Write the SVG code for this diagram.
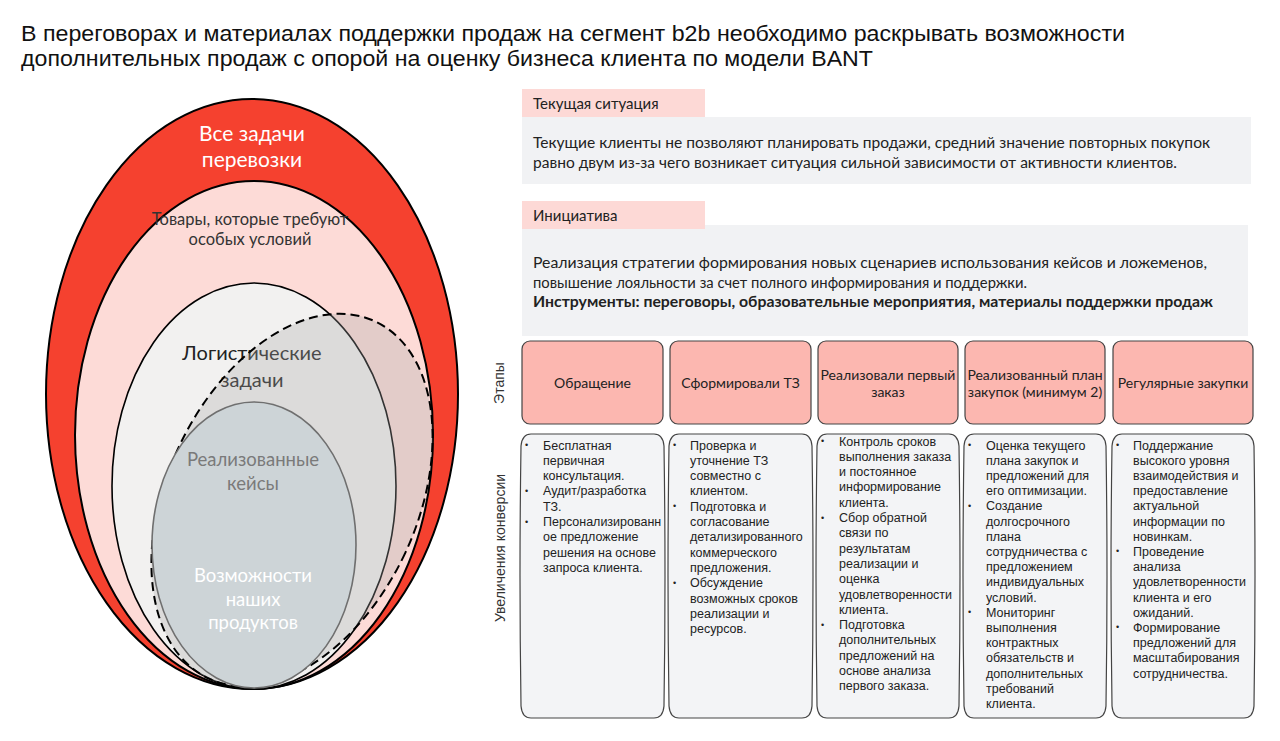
<svg xmlns="http://www.w3.org/2000/svg" width="1280" height="741" viewBox="0 0 1280 741">
<style>
.title{font-family:"Liberation Sans",Arial,sans-serif;font-size:22.5px;fill:#111}
.cal{font-family:Lato,"Open Sans",sans-serif}
.lbl{font-size:15px;fill:#222}
.body{font-size:15.5px;fill:#222}
.stage{fill:#fcb7b0;stroke:#444;stroke-width:1.2}
.stxt{font-family:Lato,"Open Sans",sans-serif;font-size:14px;fill:#222;text-anchor:middle}
.col{fill:#f3f4f6;stroke:#444;stroke-width:1.2}
.bt{font-family:"Liberation Sans",Arial,sans-serif;font-size:12.5px;fill:#222}
.bul{font-family:"Liberation Sans",Arial,sans-serif;font-size:9px;fill:#222}
.side{font-family:"Liberation Sans",Arial,sans-serif;font-size:14px;fill:#333;text-anchor:middle}
.et{font-family:Lato,"Open Sans",sans-serif;text-anchor:middle}
</style>
<rect width="1280" height="741" fill="#ffffff"/>

<g id="title">
<text class="title" x="21" y="41" textLength="1104" lengthAdjust="spacingAndGlyphs">В переговорах и материалах поддержки продаж на сегмент b2b необходимо раскрывать возможности</text>
<text class="title" x="21" y="66" textLength="852" lengthAdjust="spacingAndGlyphs">дополнительных продаж с опорой на оценку бизнеса клиента по модели BANT</text>
</g>

<g id="ellipses">
<g id="e-all">
<ellipse cx="252" cy="394" rx="206" ry="295" fill="#f5412f" stroke="#000" stroke-width="2"/>
<text class="et" x="252" y="141" font-size="21" fill="#fff">Все задачи</text>
<text class="et" x="252" y="167" font-size="21" fill="#fff">перевозки</text>
</g>
<g id="e-special">
<ellipse cx="254" cy="435" rx="179" ry="254" fill="#fddbd7" stroke="#000" stroke-width="2"/>
<text class="et" x="250" y="225" font-size="16.5" fill="#333">Товары, которые требуют</text>
<text class="et" x="250" y="245" font-size="16.5" fill="#333">особых условий</text>
</g>
<g id="e-logistic">
<ellipse cx="254" cy="486" rx="142" ry="203" fill="#f2f1f0" stroke="#000" stroke-width="1.6"/>
<text class="et" x="252" y="360" font-size="20" fill="#222">Логистические</text>
<text class="et" x="252" y="387" font-size="20" fill="#222">задачи</text>
</g>
<g id="e-dashed">
<ellipse cx="292" cy="500" rx="125" ry="197" transform="rotate(25 292 500)" fill="#a8a8a8" fill-opacity="0.3" stroke="#000" stroke-width="2" stroke-dasharray="9 5"/>
</g>
<g id="e-products">
<ellipse cx="254" cy="545" rx="102" ry="143" fill="#cdd4d7" stroke="#6f6f6f" stroke-width="1.6"/>
<text class="et" x="253" y="466" font-size="18.5" fill="#7a7a7a">Реализованные</text>
<text class="et" x="253" y="490" font-size="18.5" fill="#7a7a7a">кейсы</text>
<text class="et" x="253" y="582" font-size="18.5" fill="#fff">Возможности</text>
<text class="et" x="253" y="606" font-size="18.5" fill="#fff">наших</text>
<text class="et" x="253" y="629" font-size="18.5" fill="#fff">продуктов</text>
</g>
</g>

<g id="current">
<rect x="522" y="117" width="729" height="67" fill="#f1f2f4"/>
<rect x="522" y="89" width="183" height="28" fill="#fdd9d6"/>
<text class="cal lbl" x="533" y="109">Текущая ситуация</text>
<text class="cal body" x="533" y="148" textLength="677" lengthAdjust="spacingAndGlyphs">Текущие клиенты не позволяют планировать продажи, средний значение повторных покупок</text>
<text class="cal body" x="533" y="168" textLength="644" lengthAdjust="spacingAndGlyphs">равно двум из-за чего возникает ситуация сильной зависимости от активности клиентов.</text>
</g>

<g id="initiative">
<rect x="522" y="225" width="726" height="111" fill="#f1f2f4"/>
<rect x="522" y="201" width="183" height="28" fill="#fdd9d6"/>
<text class="cal lbl" x="533" y="221">Инициатива</text>
<text class="cal body" x="533" y="268" textLength="674" lengthAdjust="spacingAndGlyphs">Реализация стратегии формирования новых сценариев использования кейсов и ложеменов,</text>
<text class="cal body" x="533" y="288" textLength="494" lengthAdjust="spacingAndGlyphs">повышение лояльности за счет полного информирования и поддержки.</text>
<text class="cal body" x="533" y="307" font-weight="bold" textLength="680" lengthAdjust="spacingAndGlyphs">Инструменты: переговоры, образовательные мероприятия, материалы поддержки продаж</text>
</g>

<g id="side-labels">
<text class="side" transform="translate(504 383) rotate(-90)">Этапы</text>
<text class="side" font-size="15" transform="translate(505 548) rotate(-90)">Увеличения конверсии</text>
</g>

<g id="stage1">
<rect class="stage" x="522" y="341" width="141" height="83" rx="8"/>
<text class="stxt" x="592.5" y="388">Обращение</text>
</g>
<g id="stage2">
<rect class="stage" x="670" y="341" width="141" height="83" rx="8"/>
<text class="stxt" x="740.5" y="388">Сформировали ТЗ</text>
</g>
<g id="stage3">
<rect class="stage" x="818" y="341" width="140" height="83" rx="8"/>
<text class="stxt" x="888" y="380">Реализовали первый</text>
<text class="stxt" x="888" y="397">заказ</text>
</g>
<g id="stage4">
<rect class="stage" x="965" y="341" width="140" height="83" rx="8"/>
<text class="stxt" x="1035" y="380" font-size="13.5">Реализованный план</text>
<text class="stxt" x="1035" y="397" font-size="13.5">закупок (минимум 2)</text>
</g>
<g id="stage5">
<rect class="stage" x="1113" y="341" width="140" height="83" rx="8"/>
<text class="stxt" x="1183" y="388">Регулярные закупки</text>
</g>

<g id="col1">
<path class="col" d="M531 434 H654 Q663 434 664 446 Q666 576 664 706 Q663 718 654 718 H531 Q522 718 521 706 Q519 576 521 446 Q522 434 531 434 Z"/>
<text class="bt" x="543" y="449.5"><tspan x="543">Бесплатная</tspan><tspan x="543" dy="15.3">первичная</tspan><tspan x="543" dy="15.3">консультация.</tspan><tspan x="543" dy="15.3">Аудит/разработка</tspan><tspan x="543" dy="15.3">ТЗ.</tspan><tspan x="543" dy="15.3">Персонализированн</tspan><tspan x="543" dy="15.3">ое предложение</tspan><tspan x="543" dy="15.3">решения на основе</tspan><tspan x="543" dy="15.3">запроса клиента.</tspan></text>
<text class="bul" x="525" y="448"><tspan x="525">•</tspan><tspan x="525" dy="45.9">•</tspan><tspan x="525" dy="30.6">•</tspan></text>
</g>

<g id="col2">
<path class="col" d="M679 434 H802 Q811 434 812 446 Q814 576 812 706 Q811 718 802 718 H679 Q670 718 669 706 Q667 576 669 446 Q670 434 679 434 Z"/>
<text class="bt" x="690" y="449.5"><tspan x="690">Проверка и</tspan><tspan x="690" dy="15.3">уточнение ТЗ</tspan><tspan x="690" dy="15.3">совместно с</tspan><tspan x="690" dy="15.3">клиентом.</tspan><tspan x="690" dy="15.3">Подготовка и</tspan><tspan x="690" dy="15.3">согласование</tspan><tspan x="690" dy="15.3">детализированного</tspan><tspan x="690" dy="15.3">коммерческого</tspan><tspan x="690" dy="15.3">предложения.</tspan><tspan x="690" dy="15.3">Обсуждение</tspan><tspan x="690" dy="15.3">возможных сроков</tspan><tspan x="690" dy="15.3">реализации и</tspan><tspan x="690" dy="15.3">ресурсов.</tspan></text>
<text class="bul" x="673" y="448"><tspan x="673">•</tspan><tspan x="673" dy="61.2">•</tspan><tspan x="673" dy="76.5">•</tspan></text>
</g>

<g id="col3">
<path class="col" d="M827 434 H949 Q958 434 959 446 Q961 576 959 706 Q958 718 949 718 H827 Q818 718 817 706 Q815 576 817 446 Q818 434 827 434 Z"/>
<text class="bt" x="839" y="445.5"><tspan x="839">Контроль сроков</tspan><tspan x="839" dy="15.3">выполнения заказа</tspan><tspan x="839" dy="15.3">и постоянное</tspan><tspan x="839" dy="15.3">информирование</tspan><tspan x="839" dy="15.3">клиента.</tspan><tspan x="839" dy="15.3">Сбор обратной</tspan><tspan x="839" dy="15.3">связи по</tspan><tspan x="839" dy="15.3">результатам</tspan><tspan x="839" dy="15.3">реализации и</tspan><tspan x="839" dy="15.3">оценка</tspan><tspan x="839" dy="15.3">удовлетворенности</tspan><tspan x="839" dy="15.3">клиента.</tspan><tspan x="839" dy="15.3">Подготовка</tspan><tspan x="839" dy="15.3">дополнительных</tspan><tspan x="839" dy="15.3">предложений на</tspan><tspan x="839" dy="15.3">основе анализа</tspan><tspan x="839" dy="15.3">первого заказа.</tspan></text>
<text class="bul" x="821" y="444"><tspan x="821">•</tspan><tspan x="821" dy="76.5">•</tspan><tspan x="821" dy="107.1">•</tspan></text>
</g>

<g id="col4">
<path class="col" d="M974 434 H1096 Q1105 434 1106 446 Q1108 576 1106 706 Q1105 718 1096 718 H974 Q965 718 964 706 Q962 576 964 446 Q965 434 974 434 Z"/>
<text class="bt" x="986" y="449.5"><tspan x="986">Оценка текущего</tspan><tspan x="986" dy="15.2">плана закупок и</tspan><tspan x="986" dy="15.2">предложений для</tspan><tspan x="986" dy="15.2">его оптимизации.</tspan><tspan x="986" dy="15.2">Создание</tspan><tspan x="986" dy="15.2">долгосрочного</tspan><tspan x="986" dy="15.2">плана</tspan><tspan x="986" dy="15.2">сотрудничества с</tspan><tspan x="986" dy="15.2">предложением</tspan><tspan x="986" dy="15.2">индивидуальных</tspan><tspan x="986" dy="15.2">условий.</tspan><tspan x="986" dy="15.2">Мониторинг</tspan><tspan x="986" dy="15.2">выполнения</tspan><tspan x="986" dy="15.2">контрактных</tspan><tspan x="986" dy="15.2">обязательств и</tspan><tspan x="986" dy="15.2">дополнительных</tspan><tspan x="986" dy="15.2">требований</tspan><tspan x="986" dy="15.2">клиента.</tspan></text>
<text class="bul" x="968" y="448"><tspan x="968">•</tspan><tspan x="968" dy="60.8">•</tspan><tspan x="968" dy="106.4">•</tspan></text>
</g>

<g id="col5">
<path class="col" d="M1122 434 H1244 Q1253 434 1254 446 Q1256 576 1254 706 Q1253 718 1244 718 H1122 Q1113 718 1112 706 Q1110 576 1112 446 Q1113 434 1122 434 Z"/>
<text class="bt" x="1133" y="449.5"><tspan x="1133">Поддержание</tspan><tspan x="1133" dy="15.2">высокого уровня</tspan><tspan x="1133" dy="15.2">взаимодействия и</tspan><tspan x="1133" dy="15.2">предоставление</tspan><tspan x="1133" dy="15.2">актуальной</tspan><tspan x="1133" dy="15.2">информации по</tspan><tspan x="1133" dy="15.2">новинкам.</tspan><tspan x="1133" dy="15.2">Проведение</tspan><tspan x="1133" dy="15.2">анализа</tspan><tspan x="1133" dy="15.2">удовлетворенности</tspan><tspan x="1133" dy="15.2">клиента и его</tspan><tspan x="1133" dy="15.2">ожиданий.</tspan><tspan x="1133" dy="15.2">Формирование</tspan><tspan x="1133" dy="15.2">предложений для</tspan><tspan x="1133" dy="15.2">масштабирования</tspan><tspan x="1133" dy="15.2">сотрудничества.</tspan></text>
<text class="bul" x="1116" y="448"><tspan x="1116">•</tspan><tspan x="1116" dy="106.4">•</tspan><tspan x="1116" dy="76">•</tspan></text>
</g>

<g id="connectors"></g>
</svg>
